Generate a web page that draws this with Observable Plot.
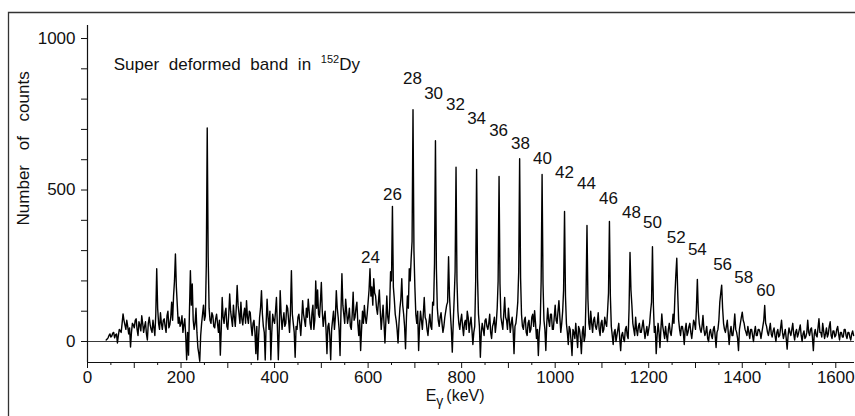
<!DOCTYPE html>
<html><head><meta charset="utf-8">
<script src="https://cdn.jsdelivr.net/npm/d3@7"></script>
<script src="https://cdn.jsdelivr.net/npm/@observablehq/plot@0.6"></script>
<style>html,body{margin:0;padding:0;background:#fff;} svg{display:block}</style>
</head><body><div id="chart"></div>
<script>
// Gamma-ray spectrum: counts per 2 keV bin, first bin at 40 keV
const energyStart = 40;
const energyStep = 2;
const counts = [
  // 40-138
  5,8,12,20,25,15,18,28,30,12,22,25,-5,20,40,35,30,60,91,70,55,40,70,50,25,45,-18,30,60,55,45,70,75,40,20,65,55,35,85,60,30,50,65,25,5,60,80,55,40,30,
  // 140-238
  70,45,20,90,240,110,60,40,95,60,40,70,75,50,30,85,100,45,55,80,130,70,150,200,289,180,120,60,80,50,60,85,30,55,75,20,-60,30,-45,100,234,120,190,70,40,60,110,30,-20,-40,
  // 240-338
  -65,20,60,90,120,70,85,250,705,280,110,70,60,95,85,50,45,75,90,60,30,70,-45,40,145,80,60,95,110,50,40,90,157,100,75,50,120,80,50,110,185,120,90,60,130,75,55,90,110,60,
  // 340-438
  135,80,60,100,95,50,20,60,70,30,-40,50,-60,20,80,110,168,90,50,30,-61,60,140,80,40,100,-60,30,90,70,60,100,145,50,-60,40,168,90,40,70,95,50,60,120,110,70,30,100,234,90,
  // 440-538
  60,30,-52,50,40,80,90,60,20,70,135,90,70,50,110,80,140,100,60,40,95,120,40,70,200,110,170,90,80,130,195,100,50,80,100,40,-40,50,60,20,-60,40,70,100,40,80,168,110,80,40,
  // 540-638
  -46,100,224,120,90,60,140,100,60,80,110,50,40,90,163,70,80,110,130,60,20,70,-30,40,100,60,119,80,60,90,130,170,240,150,180,120,207,160,150,110,90,130,170,100,40,80,120,60,-5,70,
  // 640-738
  150,80,60,110,230,200,446,180,140,90,70,40,-5,60,110,140,207,120,90,50,-24,80,150,110,240,200,273,330,765,300,180,90,60,100,-30,50,100,70,40,90,145,80,70,40,20,60,90,50,40,130,
  // 740-838
  120,260,663,240,110,70,50,80,95,60,30,50,80,100,120,130,280,150,90,40,-35,60,140,230,575,200,100,60,40,70,90,50,20,60,70,40,100,80,30,60,80,40,-10,30,50,200,568,210,90,50,
  // 840-938
  -52,30,60,40,20,70,75,50,40,60,90,30,10,50,60,80,30,60,110,200,545,190,80,60,40,90,145,80,70,40,110,70,30,60,80,40,-40,50,60,90,130,230,603,210,90,50,40,70,80,30,
  // 940-1038
  20,60,70,30,40,80,90,50,102,60,10,40,-46,30,60,200,551,190,70,40,-30,60,110,70,50,90,90,40,40,80,120,70,60,100,135,80,30,60,100,170,429,150,60,30,-10,50,40,0,-46,40,
  // 1040-1138
  30,10,60,20,-20,50,40,10,-40,30,50,0,20,150,383,140,60,40,100,60,30,70,80,50,40,60,95,40,20,60,70,30,40,80,60,50,100,160,396,150,50,20,-10,30,40,0,20,40,60,10,
  // 1140-1238
  -30,20,30,10,0,40,50,20,10,110,294,170,120,60,40,20,80,40,20,50,60,30,30,50,70,40,10,30,50,20,40,60,100,130,313,120,30,50,-40,20,60,30,-20,40,91,50,30,10,50,20,
  // 1240-1338
  0,40,60,30,20,50,90,60,150,220,275,160,70,40,20,50,50,30,-10,40,60,20,30,50,60,30,10,40,70,60,40,110,205,100,60,40,30,50,86,40,20,30,50,10,0,30,40,20,10,40,
  // 1340-1438
  50,20,-20,30,40,70,130,160,186,110,60,40,30,50,70,30,-10,30,50,20,20,50,91,40,30,10,-30,40,60,80,97,70,60,40,30,20,50,30,10,40,40,20,0,30,50,20,20,40,40,30,
  // 1440-1538
  10,30,50,70,119,60,50,30,20,40,60,25,15,35,45,20,0,30,40,15,20,45,70,30,10,25,40,10,-25,20,45,30,20,40,60,25,5,30,40,15,25,40,55,20,0,25,35,10,15,30,
  // 1540-1638
  70,30,20,40,45,15,-30,25,40,20,15,45,75,30,30,15,60,35,10,25,45,15,25,50,65,20,10,35,35,15,20,40,50,25,5,30,30,15,15,40,40,20,10,30,30,15,5,25,35,20
];

// Superdeformed band spin labels
const bandSpins = [24,26,28,30,32,34,36,38,40,42,44,46,48,50,52,54,56,58,60];
const bandLabelEnergy = [605,652,695,740,787,832,879,926,973,1020,1067,1114,1163,1208,1259,1304,1358,1403,1450];
const bandLabelCounts = [277,485,868,818,782,736,696,653,604,558,522,472,426,393,343,304,254,211,168];

// Axes
const yTicks = [0,100,200,300,400,500,600,700,800,900,1000];
const yTickLabels = [0,500,1000];
const xMajorTicks = [0,100,200,300,400,500,600,700,800,900,1000,1100,1200,1300,1400,1500,1600];
const xMinorTicks = [50,150,250,350,450,550,650,750,850,950,1050,1150,1250,1350,1450,1550];
const xTickLabels = [0,200,400,600,800,1000,1200,1400,1600];
const xDomain = [0, 1640];
const yDomain = [-69.3, 1043];

const titleText = "Super deformed band in ";
const titleSup = "152";
const titleEnd = "Dy";
const yLabel = "Number of counts";

const spectrum = counts.map((c, i) => ({e: energyStart + energyStep * i, c}));

const chart = Plot.plot({
  width: 855, height: 416,
  marginLeft: 87, marginRight: 1, marginTop: 25, marginBottom: 54,
  x: {domain: xDomain},
  y: {domain: yDomain},
  style: {fontFamily: "'Liberation Sans', Arial, Helvetica, sans-serif", fontSize: "17px", color: "#111", background: "#fff"},
  marks: [
    Plot.ruleY([0], {stroke: "#222", strokeWidth: 0.9}),
    Plot.line(spectrum, {x: "e", y: "c", stroke: "#000", strokeWidth: 1.4}),
    Plot.ruleX([xDomain[0]], {stroke: "#111", strokeWidth: 1.2}),
    Plot.ruleY([yDomain[0]], {stroke: "#111", strokeWidth: 1.2}),
    Plot.axisY({ticks: yTicks, tickSize: 6, tickPadding: 6, tickFormat: d => yTickLabels.includes(d) ? String(d) : "", label: null}),
    Plot.axisX({ticks: xMajorTicks, tickSize: 6, tickPadding: 2, tickFormat: d => xTickLabels.includes(d) ? String(d) : "", label: null}),
    Plot.axisX({ticks: xMinorTicks, tickSize: 3, tickFormat: () => "", label: null}),
    Plot.text(bandSpins, {x: bandLabelEnergy, y: bandLabelCounts, text: d => String(d), fill: "#111"}),
    Plot.text([titleText], {x: [56], y: [915], textAnchor: "start", fill: "#111"}),
    Plot.text(["E"], {x: [723], frameAnchor: "bottom", dy: 38, textAnchor: "start", fill: "#111", fontSize: 16}),
    Plot.text([yLabel], {frameAnchor: "left", y: [383], dx: -64, rotate: -90, fill: "#111"})
  ]
});

document.getElementById("chart").appendChild(chart);

const svg = d3.select(chart);
svg.selectAll("text").each(function() {
  const t = d3.select(this);
  const s = t.text();
  if (s === titleText) {
    t.text(null).style("word-spacing", "5px");
    t.append("tspan").text(titleText);
    t.append("tspan").attr("font-size", 11).attr("dy", -7).text(titleSup);
    t.append("tspan").attr("dy", 7).text(titleEnd);
  } else if (s === "E") {
    t.text(null);
    t.append("tspan").text("E");
    t.append("tspan").attr("font-size", 14).attr("dy", 5).text("\u03B3");
    t.append("tspan").attr("dy", -5).attr("dx", 3).text("(keV)");
  } else if (s === yLabel) {
    t.style("word-spacing", "10px");
  }
});
// outer figure frame (top and left edges)
svg.append("path").attr("d", "M8.5,416V12.5H855").attr("fill", "none").attr("stroke", "#333").attr("stroke-width", 1.3);
</script>
</body></html>
